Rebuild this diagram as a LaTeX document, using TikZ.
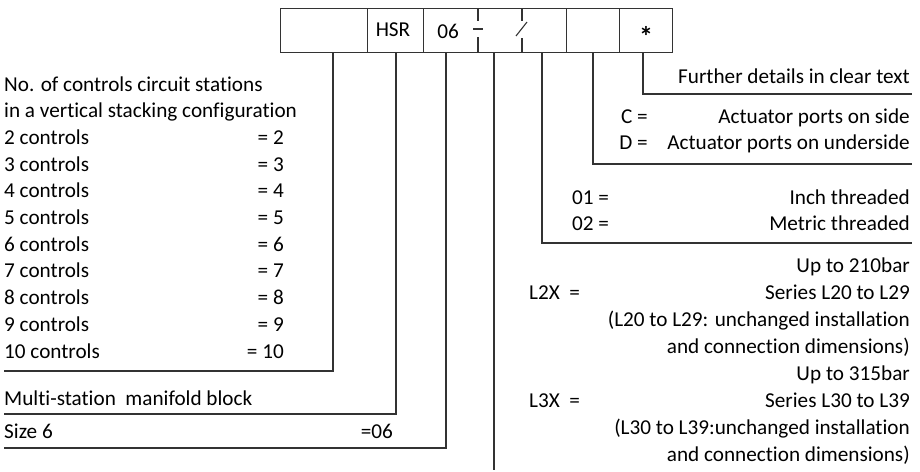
\documentclass[tikz,border=0pt]{standalone}
\usepackage{fontspec}
\setmainfont[Ligatures=NoCommon]{Carlito}
\begin{document}
\begin{tikzpicture}[x=1pt,y=-1pt,
  ln/.style={line width=1.1pt,draw=black!80},
  cell/.style={ln,draw,minimum height=44pt,inner sep=0pt,anchor=north west},
  tx/.style={inner sep=0pt,font=\fontsize{21.2}{24}\selectfont},
  lt/.style={tx,anchor=base west},
  rt/.style={tx,anchor=base east}]
\useasboundingbox (0,0) rectangle (920,471);
% code boxes
\node[cell,minimum width=87pt] (c1) at (280,8) {};
\node[cell,minimum width=56pt] (c2) at (367,8) {};
\node[cell,minimum width=143pt] (c3) at (423,8) {};
\node[cell,minimum width=53pt] (c4) at (566,8) {};
\node[cell,minimum width=53pt] (c5) at (619,8) {};
\node[tx] (hsr) at (393,30) {HSR};
\node[tx] (n06) at (448,31) {06};
\node[tx,font=\fontsize{28}{30}\bfseries] (star) at (646,36) {*};
% separators inside 06 cell
\draw[ln] (478,8) -- (478,21);
\draw[ln] (473,29) -- (483,29);
\draw[ln] (478,37) -- (478,52);
\draw[ln] (522,8) -- (522,21);
\draw[ln] (516,36) -- (527,22);
\draw[ln] (522,38) -- (522,52);
% drop points
\coordinate (p1) at (333,52);
\coordinate (p2) at (396,52);
\coordinate (p3) at (446,52);
\coordinate (p4) at (494,52);
\coordinate (p5) at (542,52);
\coordinate (p6) at (593,52);
\coordinate (p7) at (643,52);
% left texts
\node[lt] (l0) at (4,91) {No. of controls circuit stations};
\node[lt] (l1) at (4,117.7) {in a vertical stacking configuration};
\foreach \n [count=\i] in {2,...,10}{
  \node[lt] (lc\n) at (4,{117.7+26.7*\i}) {\n\ controls};
  \node[rt] (le\n) at (284,{117.7+26.7*\i}) {= \n};
}
\node[lt] (ms) at (4,405) {Multi-station\ \ manifold block};
\node[lt] (sz) at (4,438) {Size 6};
\node[rt] (sze) at (393,438) {=06};
\coordinate (e1) at (4,371);
\coordinate (e2) at (4,414);
\coordinate (e3) at (4,448);
\draw[ln] (p1) |- (e1);
\draw[ln] (p2) |- (e2);
\draw[ln] (p3) |- (e3);
% series line
\coordinate (e4) at (494,470);
\draw[ln] (p4) -- (e4);
% right texts
\coordinate (r1) at (912,94);
\coordinate (r2) at (912,164);
\coordinate (r3) at (912,243);
\draw[ln] (p7) |- (r1);
\draw[ln] (p6) |- (r2);
\draw[ln] (p5) |- (r3);
\node[rt] (fd) at (910,83) {Further details in clear text};
\node[rt] (ck) at (648,123) {C =};
\node[rt] (ct) at (910,123) {Actuator ports on side};
\node[rt] (dk) at (648,149) {D =};
\node[rt] (dt) at (910,149) {Actuator ports on underside};
\node[lt] (k01) at (572,204) {01 =};
\node[rt] (t01) at (910,204) {Inch threaded};
\node[lt] (k02) at (572,230) {02 =};
\node[rt] (t02) at (910,230) {Metric threaded};
\node[rt] (a1) at (910,272) {Up to 210bar};
\node[lt] (k2x) at (529,299) {L2X\ \ =};
\node[rt] (a2) at (910,299) {Series L20 to L29};
\node[rt] (a3) at (910,326) {(L20 to L29: unchanged installation};
\node[rt] (a4) at (910,353) {and connection dimensions)};
\node[rt] (b1) at (910,380) {Up to 315bar};
\node[lt] (k3x) at (529,407) {L3X\ \ =};
\node[rt] (b2) at (910,407) {Series L30 to L39};
\node[rt] (b3) at (910,434) {(L30 to L39:unchanged installation};
\node[rt] (b4) at (910,461) {and connection dimensions)};
\end{tikzpicture}
\end{document}
